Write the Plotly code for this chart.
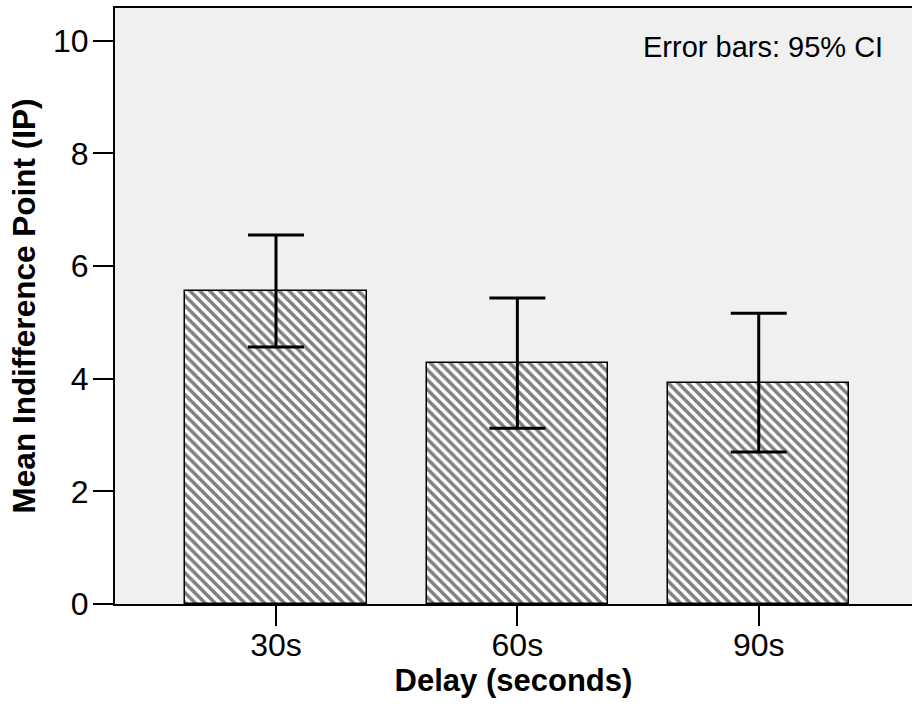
import plotly.graph_objects as go

categories = ["30s", "60s", "90s"]
means = [5.55, 4.28, 3.93]
ci_upper = [6.55, 5.43, 5.16]
ci_lower = [4.56, 3.12, 2.70]
y_ticks = [0, 2, 4, 6, 8, 10]

err_plus = [u - m for u, m in zip(ci_upper, means)]
err_minus = [m - l for m, l in zip(means, ci_lower)]

FONT = "Liberation Sans, Arial, sans-serif"

fig = go.Figure()
fig.add_trace(go.Bar(
    x=categories,
    y=means,
    width=0.752,
    marker=dict(
        color="white",
        line=dict(color="black", width=1.5),
        pattern=dict(shape="\\", fgcolor="black", bgcolor="white",
                     size=7, solidity=0.5),
    ),
    error_y=dict(
        type="data", symmetric=False,
        array=err_plus, arrayminus=err_minus,
        color="black", thickness=3, width=28,
    ),
    showlegend=False,
))

fig.update_layout(
    width=912, height=706,
    margin=dict(l=115, r=0, t=8, b=102),
    paper_bgcolor="white",
    plot_bgcolor="#f0f0f0",
    font=dict(family=FONT, color="black"),
    bargap=0,
    xaxis=dict(
        range=[-0.667, 2.635],
        showline=True, linecolor="black", linewidth=2, mirror=True,
        ticks="outside", ticklen=20, tickwidth=2, tickcolor="black",
        tickfont=dict(size=32, family=FONT),
        ticklabelstandoff=-8,
        showgrid=False, zeroline=False,
        title=dict(text="<b>Delay (seconds)</b>", font=dict(size=31, family=FONT), standoff=2),
    ),
    yaxis=dict(
        range=[0, 10.58],
        tickvals=y_ticks,
        showline=True, linecolor="black", linewidth=2,
        ticks="outside", ticklen=20, tickwidth=2, tickcolor="black",
        tickfont=dict(size=32, family=FONT),
        ticklabelstandoff=-2,
        showgrid=False, zeroline=False,
        title=dict(text="<b>Mean Indifference Point (IP)</b>", font=dict(size=31.5, family=FONT), standoff=8),
    ),
    annotations=[dict(
        text="Error bars: 95% CI", xref="paper", yref="paper",
        x=0.966, y=0.9345, xanchor="right", yanchor="middle",
        showarrow=False, font=dict(size=29, family=FONT, color="black"),
    )],
)

fig.write_html("out.html")
